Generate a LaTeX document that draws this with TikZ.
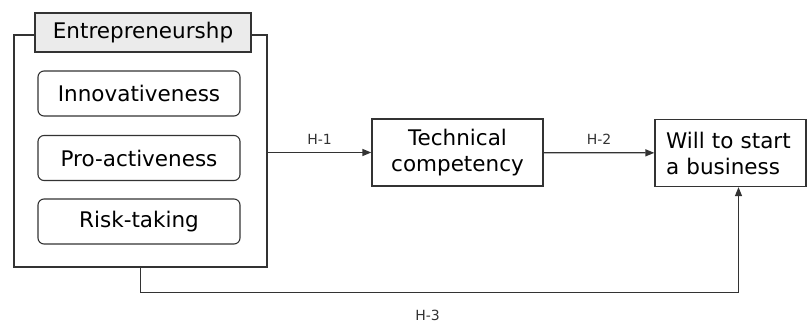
\documentclass[tikz,border=0pt]{standalone}
\usepackage{fontspec}
\setmainfont{DejaVu Sans}
\usetikzlibrary{arrows.meta,positioning,calc}
\definecolor{fwInk}{HTML}{333333}
\definecolor{fwGray}{HTML}{EBEBEB}
\tikzset{
  frame/.style={draw=fwInk, line width=1.3pt, minimum width=253pt, minimum height=232pt},
  ttl/.style={draw=fwInk, fill=fwGray, line width=1.3pt, minimum width=216pt, minimum height=39pt, font=\fontsize{21.5}{26}\selectfont},
  dim/.style={draw=fwInk, line width=1.1pt, rounded corners=6pt, minimum width=202pt, minimum height=45pt, font=\fontsize{21.5}{26}\selectfont},
  var/.style={draw=fwInk, line width=1.3pt, minimum height=67pt, font=\fontsize{21.5}{26}\selectfont},
  arr/.style={-{Triangle[length=9pt,width=7pt]}, line width=1.3pt, draw=fwInk},
  hyp/.style={font=\fontsize{14}{16}\selectfont, text=fwInk},
}
\begin{document}
\begin{tikzpicture}[x=1pt, y=-1pt]
  \useasboundingbox (0,0) rectangle (808,323);
  \node[frame] (ent) at (140.5,151) {};
  \node[ttl] (ttl) at (143,32.5) {Entrepreneurshp};
  \node[dim] (d1) at (139,93.5) {Innovativeness};
  \node[dim] (d2) at (139,158) {Pro-activeness};
  \node[dim] (d3) at (139,221.5) {Risk-taking};
  \node[var, minimum width=171pt, align=center] (tech) at (457.5,152.5) {Technical\\competency};
  \node[var, minimum width=151pt, text width=129pt, align=left] (will) at (730.5,153) {Will to start\\a business};
  \draw[arr] (tech.west -| ent.east) -- node[hyp, above=4pt] {H-1} (tech.west);
  \draw[arr] (tech) -- node[hyp, above=4pt] {H-2} (will);
  \draw[arr] (ent.south) -- ++(0,25) -| node[hyp, pos=0.24, below=13pt] {H-3} ([xshift=8pt]will.south);
\end{tikzpicture}
\end{document}
